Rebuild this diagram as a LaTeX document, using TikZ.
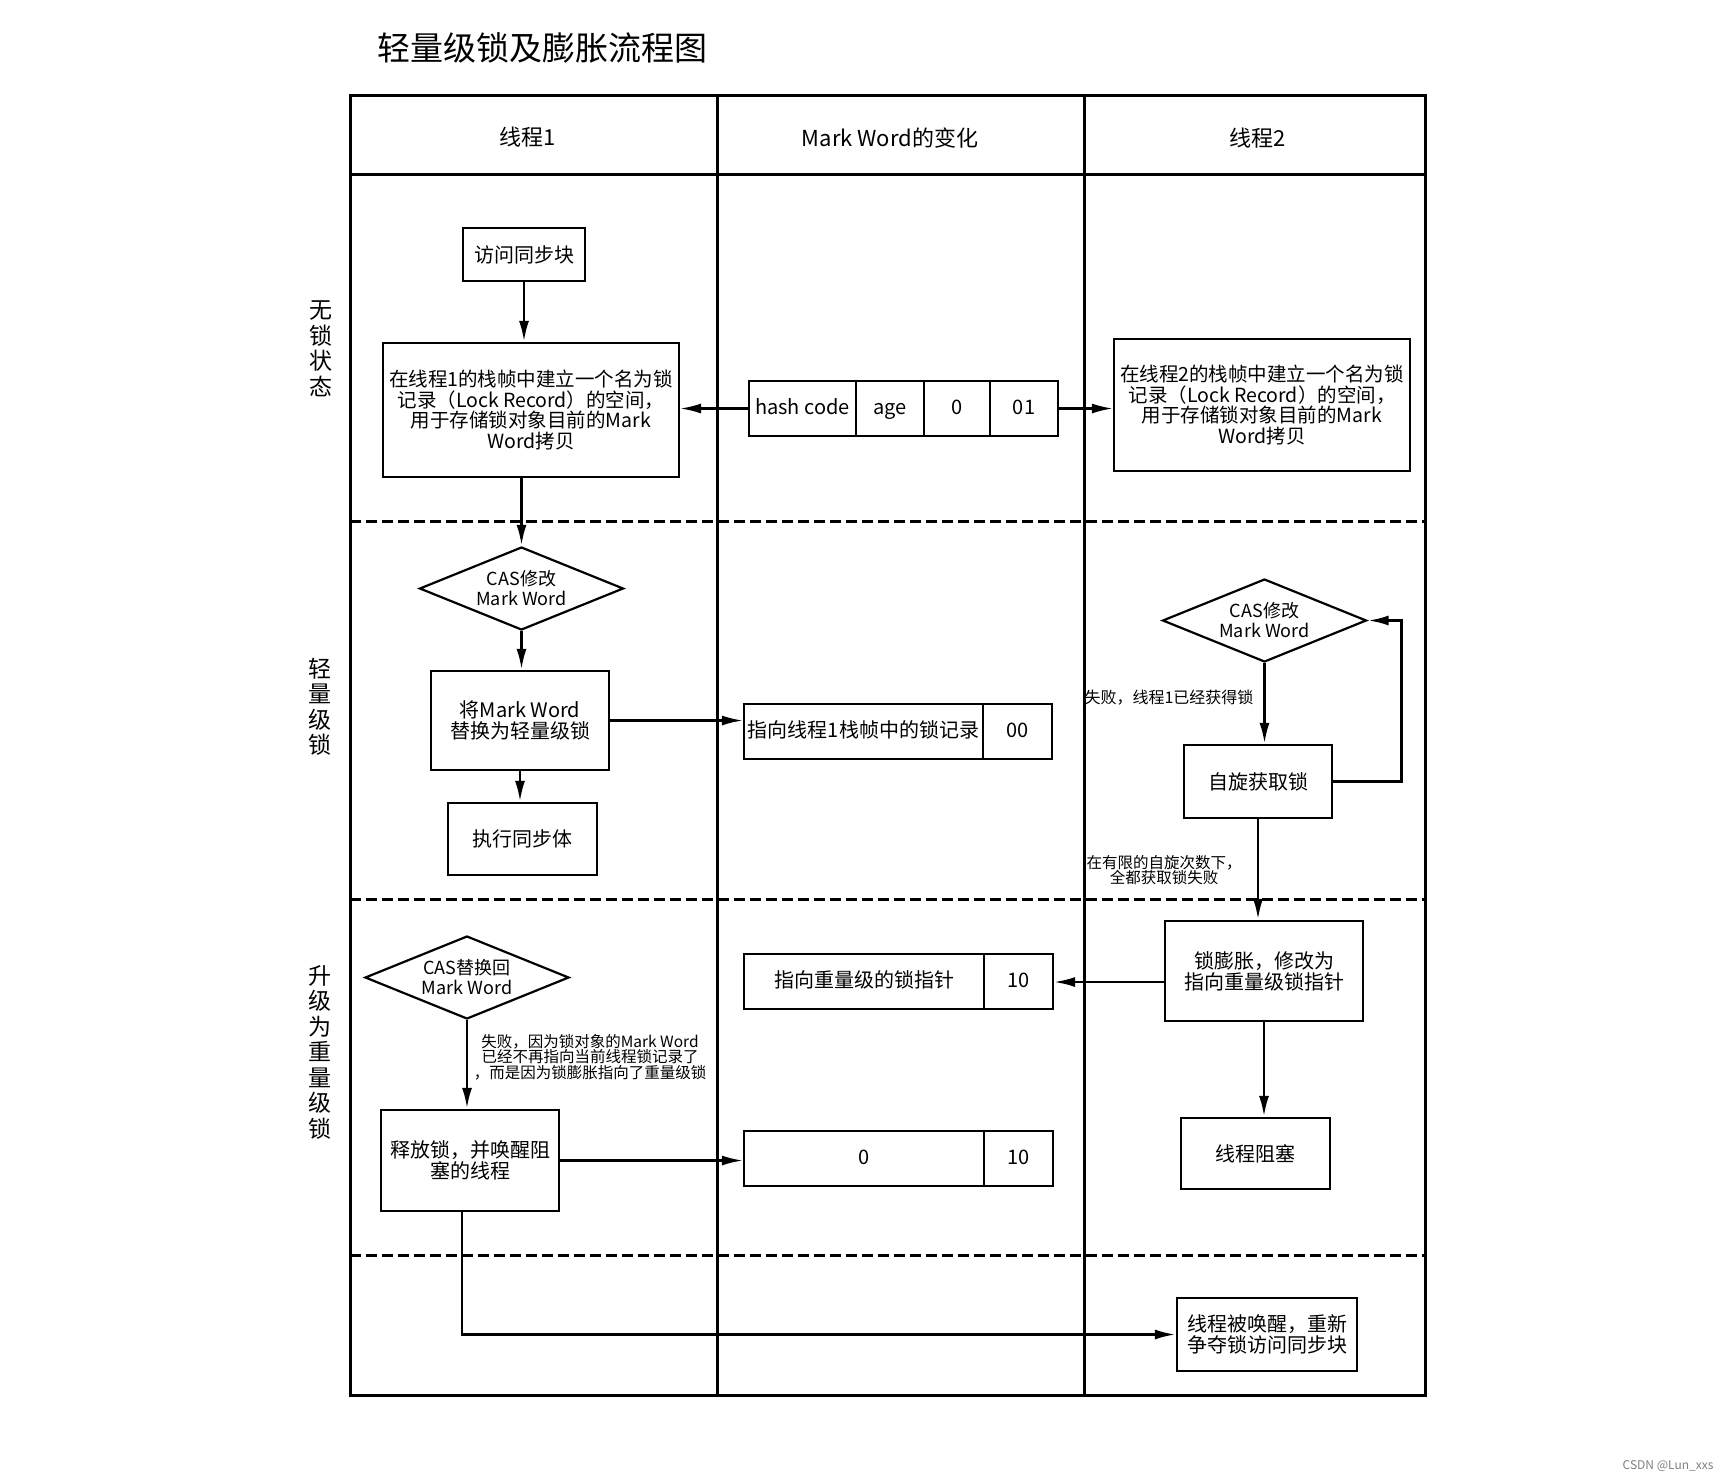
\documentclass[tikz,border=0pt]{standalone}
\usepackage{fontspec}
\setmainfont{Noto Sans CJK SC}
\usetikzlibrary{shapes.geometric,arrows.meta}
\begin{document}
\begin{tikzpicture}[x=1pt, y=-1pt]
  \tikzstyle{box} = [draw, line width=2.2pt, align=center, inner sep=2pt, font=\fontsize{20pt}{21pt}\selectfont]
  \tikzstyle{cell} = [draw, line width=2.2pt, minimum height=55pt, inner sep=0pt, text height=15pt, text depth=4pt, font=\fontsize{20pt}{21pt}\selectfont]
  \tikzstyle{decision} = [draw, diamond, aspect=2.45, line width=2.2pt, inner sep=0pt, align=center, minimum width=204pt, minimum height=83pt, font=\fontsize{18pt}{20pt}\selectfont]
  \tikzstyle{flow} = [line width=2.8pt, -{Latex[length=21pt, width=10pt]}]
  \tikzstyle{lane} = [line width=3pt]
  \tikzstyle{sep} = [line width=3pt, dash pattern=on 11pt off 5pt]
  \tikzstyle{note} = [align=center, font=\fontsize{16pt}{16pt}\selectfont]
  \tikzstyle{stage} = [align=center, font=\fontsize{23pt}{25.5pt}\selectfont]
  \useasboundingbox (0,0) rectangle (1732,1481);

  % title and table
  \node[font=\fontsize{33pt}{35pt}\selectfont] (title) at (542,48) {轻量级锁及膨胀流程图};
  \draw[lane] (350,95) rectangle (1425,1395);
  \draw[lane] (350,174) -- (1425,174);
  \draw[lane] (717,95) -- (717,1395);
  \draw[lane] (1084,95) -- (1084,1395);
  \draw[sep] (350,521) -- (1425,521);
  \draw[sep] (350,899) -- (1425,899);
  \draw[sep] (350,1255) -- (1425,1255);
  \node[font=\fontsize{22pt}{24pt}\selectfont] (head1) at (528,137) {线程1};
  \node[font=\fontsize{22pt}{24pt}\selectfont] (head2) at (890,138) {Mark Word的变化};
  \node[font=\fontsize{22pt}{24pt}\selectfont] (head3) at (1258,138) {线程2};
  \node[stage] (nolock) at (321,349) {无\\锁\\状\\态};
  \node[stage] (light) at (320,707) {轻\\量\\级\\锁};
  \node[stage] (heavy) at (320,1052) {升\\级\\为\\重\\量\\级\\锁};

  % thread 1
  \node[box, minimum width=122pt, minimum height=53pt] (visit) at (524,254.5) {访问同步块};
  \node[box, minimum width=296pt, minimum height=134pt, font=\fontsize{19.5pt}{20.5pt}\selectfont] (rec1) at (531,410) {在线程1的栈帧中建立一个名为锁\\记录（Lock Record）的空间，\\用于存储锁对象目前的Mark\\Word拷贝};
  \node[decision] (cas1) at (521.5,588.5) {CAS修改\\Mark Word};
  \node[box, minimum width=178pt, minimum height=99pt] (swap) at (520,720.5) {将Mark Word\\替换为轻量级锁};
  \node[box, minimum width=149pt, minimum height=72pt] (exec) at (522.5,839) {执行同步体};
  \node[decision] (cas3) at (467,977.5) {CAS替换回\\Mark Word};
  \node[box, minimum width=178pt, minimum height=101pt] (release) at (470,1160.5) {释放锁，并唤醒阻\\塞的线程};
  \node[note, font=\fontsize{15.5pt}{15.5pt}\selectfont] (fail3) at (590,1057) {失败，因为锁对象的Mark Word\\已经不再指向当前线程锁记录了\\，而是因为锁膨胀指向了重量级锁};

  % mark word
  \node[cell, minimum width=107pt] (hash) at (802.5,408.5) {hash code};
  \node[cell, minimum width=68pt] (age) at (890,408.5) {age};
  \node[cell, minimum width=66pt] (bias) at (957,408.5) {0};
  \node[cell, minimum width=68pt] (flag) at (1024,408.5) {01};
  \node[cell, minimum width=239pt] (ptr) at (863.5,731.5) {指向线程1栈帧中的锁记录};
  \node[cell, minimum width=69pt] (ptrflag) at (1017.5,731.5) {00};
  \node[cell, minimum width=240pt] (hptr) at (864,981.5) {指向重量级的锁指针};
  \node[cell, minimum width=69pt] (hflag) at (1018.5,981.5) {10};
  \node[cell, minimum width=240pt] (zval) at (864,1158.5) {0};
  \node[cell, minimum width=69pt] (zflag) at (1018.5,1158.5) {10};

  % thread 2
  \node[box, minimum width=296pt, minimum height=132pt, font=\fontsize{19.5pt}{20.5pt}\selectfont] (rec2) at (1262,405) {在线程2的栈帧中建立一个名为锁\\记录（Lock Record）的空间，\\用于存储锁对象目前的Mark\\Word拷贝};
  \node[decision] (cas2) at (1264.5,620.5) {CAS修改\\Mark Word};
  \node[box, minimum width=148pt, minimum height=73pt] (spin) at (1258,781.5) {自旋获取锁};
  \node[note, anchor=east] (fail1) at (1257,698) {失败，线程1已经获得锁};
  \node[note, font=\fontsize{15.5pt}{15.5pt}\selectfont] (fail2) at (1164,870) {在有限的自旋次数下，\\全都获取锁失败};
  \node[box, minimum width=198pt, minimum height=100pt] (inflate) at (1264,971) {锁膨胀，修改为\\指向重量级锁指针};
  \node[box, minimum width=149pt, minimum height=71pt] (block) at (1255.5,1153.5) {线程阻塞};
  \node[box, minimum width=180pt, minimum height=73pt] (wake) at (1267,1334.5) {线程被唤醒，重新\\争夺锁访问同步块};

  % arrows
  \draw[flow] (visit.south) -- (visit.south |- rec1.north);
  \draw[flow] (cas1.north |- rec1.south) -- (cas1.north);
  \draw[flow] (cas1.south) -- (cas1.south |- swap.north);
  \draw[flow] (swap.south) -- (swap.south |- exec.north);
  \draw[flow, line width=2.2pt] (hash.west) -- (hash.west -| rec1.east);
  \draw[flow, line width=2.2pt] (flag.east) -- (flag.east -| rec2.west);
  \draw[flow, line width=2.2pt] (swap.east) -- (swap.east -| ptr.west);
  \draw[flow] (cas2.south) -- (cas2.south |- spin.north);
  \draw[flow] (spin.east) -- ++(68,0) |- (cas2.east);
  \draw[flow] (spin.south) -- (spin.south |- inflate.north);
  \draw[flow, line width=2.2pt] ([yshift=-11pt]inflate.west) -- ([yshift=-11pt]inflate.west -| hflag.east);
  \draw[flow] (inflate.south) -- (inflate.south |- block.north);
  \draw[flow] (cas3.south) -- (cas3.south |- release.north);
  \draw[flow, line width=2.2pt] (release.east) -- (release.east -| zval.west);
  \draw[flow] ([xshift=-8pt]release.south) |- (wake.west);

  \node[font=\fontsize{12pt}{12pt}\selectfont, text=gray] (mark) at (1668,1466) {CSDN @Lun\_xxs};
\end{tikzpicture}
\end{document}
